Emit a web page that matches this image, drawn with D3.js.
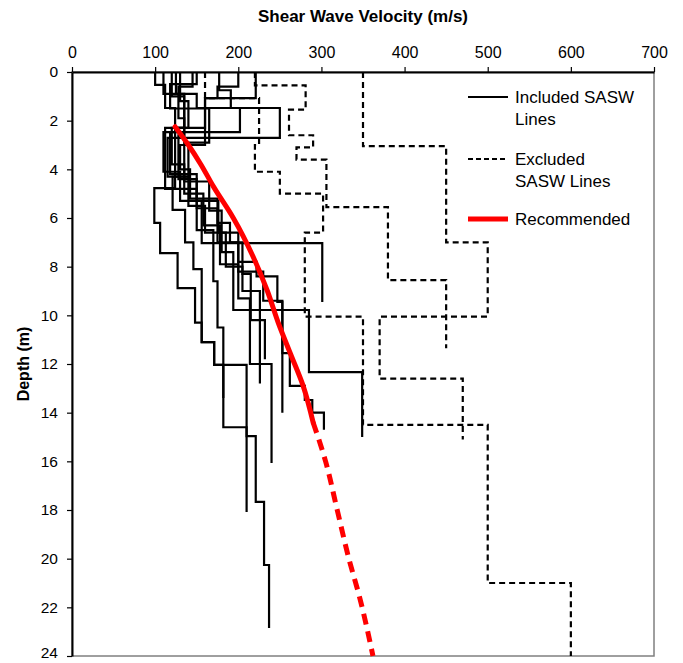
<!DOCTYPE html>
<html>
<head>
<meta charset="utf-8">
<script src="https://cdn.jsdelivr.net/npm/d3@7"></script>
<style>
  body { margin: 0; background: #fff; }
  svg { font-family: "Liberation Sans", Arial, sans-serif; }
</style>
</head>
<body>
<div class="vis-profile"></div>
<script>
// x ticks (velocity, m/s) and y ticks (depth, m)
const velocityTicks = [0, 100, 200, 300, 400, 500, 600, 700];
const depthTicks = [0, 2, 4, 6, 8, 10, 12, 14, 16, 18, 20, 22, 24];

// each SASW line: [velocity, bottom depth of layer], starts at depth 0
const includedLines = [
  [[100,0.53],[112,1.48],[124,2.47],[110,4.1],[130,5.3],[156,7.03],[301,9.45]],
  [[145,0.6],[128,1.9],[135,4.5],[165,5.7],[180,7.4],[194,9.78],[285,12.33],[349,15.0]],
  [[177,0.75],[191,1.48],[202,2.47],[118,4.2],[150,5.6],[175,7.0],[200,8.2],[230,9.4],[253,11.55],[262,12.9],[280,13.48],[289,14.0],[303,14.7]],
  [[125,0.9],[150,1.48],[250,2.71],[115,4.3],[140,5.5],[160,6.6],[185,8.0],[205,9.0],[226,12.8]],
  [[130,1.2],[140,2.3],[112,4.8],[150,6.5],[170,8.6],[175,10.5],[182,14.6],[210,14.96],[221,17.67],[231,20.26],[237,22.85]],
  [[120,1.0],[135,2.3],[124,4.77],[99,6.2],[106,7.44],[127,8.88],[148,10.3],[156,11.1],[171,12.04],[210,18.08]],
  [[221,1.07],[160,2.3],[120,3.8],[135,5.0],[158,6.3],[178,7.9],[200,9.3],[214,12.0],[240,16.07]],
  [[110,0.9],[135,2.6],[128,4.4],[150,5.3],[176,6.6],[200,7.8],[222,8.4],[247,9.45],[253,14.0]],
  [[150,0.5],[118,1.5],[165,2.9],[140,4.3],[121,5.67],[136,7.0],[146,8.1],[156,11.1],[171,12.04],[182,13.4]],
  [[200,0.6],[175,1.07],[160,3.0],[130,4.0],[142,5.2],[175,6.2],[190,7.0],[205,8.3],[215,10.2],[232,11.8]]
];

const excludedLines = [
  [[350,3.05],[450,7.0],[500,10.05],[370,12.6],[470,15.1]],
  [[160,1.07],[225,3.0],[220,4.1],[250,5.0],[302,6.6],[280,10.05],[350,14.5],[500,21.0],[600,24]],
  [[220,0.55],[281,1.55],[261,2.6],[290,3.1],[270,3.6],[306,5.55],[380,8.55],[450,11.35]]
];

// recommended profile: [velocity, depth]
const recommendedSolid = [[124,2.25],[140,3.0],[155,3.8],[170,4.7],[194,6.0],[218,7.6],[235,9.0],[248,10.3],[263,11.6],[278,12.9],[290,14.4]];
const recommendedDashed = [[290,14.4],[305,16.0],[319,18.0],[333,20.0],[346,21.6],[362,24.0]];

const legendItems = [
  {label: ["Included SASW", "Lines"], type: "included"},
  {label: ["Excluded", "SASW Lines"], type: "excluded"},
  {label: ["Recommended"], type: "recommended"}
];

const width = 683, height = 663;
const margin = {top: 72, right: 29, bottom: 7, left: 72};

const svg = d3.select(".vis-profile")
  .append("svg")
  .attr("width", width)
  .attr("height", height);

const x = d3.scaleLinear().domain([0, 700]).range([margin.left, width - margin.right]);
const y = d3.scaleLinear().domain([0, 24]).range([margin.top, height - margin.bottom]);

// plot frame (grey on right/bottom)
svg.append("rect")
  .attr("x", x(0)).attr("y", y(0))
  .attr("width", x(700) - x(0)).attr("height", y(24) - y(0))
  .attr("fill", "none").attr("stroke", "#7f7f7f").attr("stroke-width", 1.5);

// turn [v, bottom] layers into step corners
const toSteps = layers => {
  const pts = [];
  let top = 0;
  layers.forEach(([v, bot]) => {
    pts.push([v, top]);
    pts.push([v, bot]);
    top = bot;
  });
  return pts;
};

const line = d3.line().x(d => x(d[0])).y(d => y(d[1]));
const smooth = d3.line().x(d => x(d[0])).y(d => y(d[1])).curve(d3.curveMonotoneY);

const plot = svg.append("g");

plot.selectAll(".excl")
  .data(excludedLines)
  .join("path")
  .attr("class", "excl")
  .attr("d", d => line(toSteps(d)))
  .attr("fill", "none")
  .attr("stroke", "#000")
  .attr("stroke-width", 2.2)
  .attr("stroke-dasharray", "6,4");

plot.selectAll(".incl")
  .data(includedLines)
  .join("path")
  .attr("class", "incl")
  .attr("d", d => line(toSteps(d)))
  .attr("fill", "none")
  .attr("stroke", "#000")
  .attr("stroke-width", 2.2);

plot.append("path")
  .attr("d", smooth(recommendedSolid))
  .attr("fill", "none")
  .attr("stroke", "#ff0000")
  .attr("stroke-width", 5)
  .attr("stroke-linecap", "round");

plot.append("path")
  .attr("d", smooth(recommendedDashed))
  .attr("fill", "none")
  .attr("stroke", "#ff0000")
  .attr("stroke-width", 5)
  .attr("stroke-dasharray", "11,7");

// axes
svg.append("g")
  .attr("transform", `translate(0,${y(0)})`)
  .call(d3.axisTop(x).tickValues(velocityTicks).tickSize(5).tickSizeOuter(0).tickPadding(9))
  .call(g => g.select(".domain").attr("stroke-width", 2))
  .call(g => g.selectAll(".tick line").attr("stroke-width", 1.2))
  .call(g => g.selectAll("text").attr("font-size", 16).attr("fill", "#000"));

svg.append("g")
  .attr("transform", `translate(${x(0)},0)`)
  .call(d3.axisLeft(y).tickValues(depthTicks).tickSize(5).tickSizeOuter(0).tickPadding(9))
  .call(g => g.select(".domain").attr("stroke-width", 2))
  .call(g => g.selectAll(".tick line").attr("stroke-width", 1.2))
  .call(g => g.selectAll("text").attr("font-size", 15.5).attr("fill", "#000"))
  // keep the last label inside the page
  .call(g => g.selectAll(".tick text").filter(d => d === 24).attr("dy", "0.1em"));

svg.append("text")
  .attr("x", 363).attr("y", 22)
  .attr("text-anchor", "middle")
  .attr("font-weight", "bold")
  .attr("font-size", 17)
  .text("Shear Wave Velocity (m/s)");

svg.append("text")
  .attr("transform", `translate(29,${(y(0) + y(24)) / 2}) rotate(-90)`)
  .attr("text-anchor", "middle")
  .attr("font-weight", "bold")
  .attr("font-size", 16)
  .text("Depth (m)");

// legend
const legend = svg.append("g").attr("transform", "translate(462,84)");
legend.append("rect")
  .attr("x", 0).attr("y", 0).attr("width", 190).attr("height", 148)
  .attr("fill", "#fff");

const rowY = [13, 75, 135];
legendItems.forEach((item, i) => {
  const g = legend.append("g").attr("transform", `translate(0,${rowY[i]})`);
  g.append("line")
    .attr("x1", 6).attr("x2", 46)
    .attr("stroke", item.type === "recommended" ? "#ff0000" : "#000")
    .attr("stroke-width", item.type === "recommended" ? 5 : 2)
    .attr("stroke-dasharray", item.type === "excluded" ? "5,3" : null);
  g.append("text")
    .attr("x", 53)
    .attr("font-size", 17)
    .selectAll("tspan")
    .data(item.label)
    .join("tspan")
    .attr("x", 53)
    .attr("dy", (d, j) => j ? 22 : 6)
    .text(d => d);
});
</script>
</body>
</html>
